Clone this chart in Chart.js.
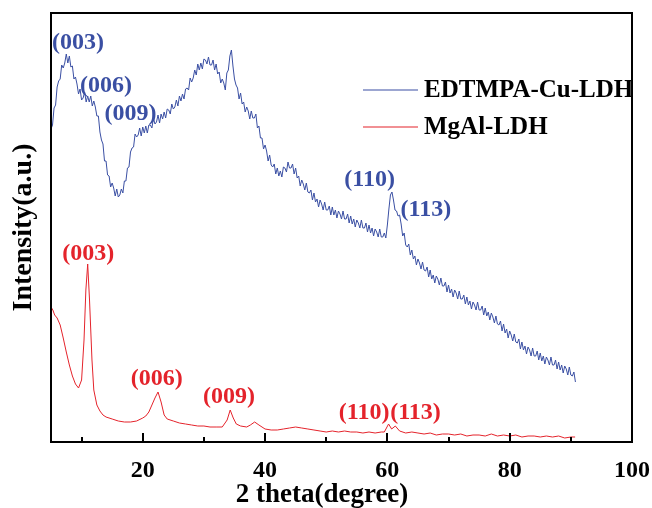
<!DOCTYPE html>
<html>
<head>
<meta charset="utf-8">
<script src="https://cdn.jsdelivr.net/npm/chart.js@4/dist/chart.umd.min.js"></script>
<style>
  html, body { margin: 0; padding: 0; background: #fff; }
  #wrap { width: 652px; height: 508px; }
</style>
</head>
<body>
<div id="wrap"><canvas id="xrd"></canvas></div>
<script>
// EDTMPA-Cu-LDH pattern (2 theta, intensity a.u.), every 0.25 degree
const cuTheta = [
    5, 5.25, 5.5, 5.75, 6, 6.25, 6.5, 6.75, 7, 7.25, 7.5, 7.75, 8, 8.25, 8.5, 8.75, 9, 9.25, 9.5, 9.75,
    10, 10.25, 10.5, 10.75, 11, 11.25, 11.5, 11.75, 12, 12.25, 12.5, 12.75, 13, 13.25, 13.5, 13.75, 14, 14.25, 14.5, 14.75,
    15, 15.25, 15.5, 15.75, 16, 16.25, 16.5, 16.75, 17, 17.25, 17.5, 17.75, 18, 18.25, 18.5, 18.75, 19, 19.25, 19.5, 19.75,
    20, 20.25, 20.5, 20.75, 21, 21.25, 21.5, 21.75, 22, 22.25, 22.5, 22.75, 23, 23.25, 23.5, 23.75, 24, 24.25, 24.5, 24.75,
    25, 25.25, 25.5, 25.75, 26, 26.25, 26.5, 26.75, 27, 27.25, 27.5, 27.75, 28, 28.25, 28.5, 28.75, 29, 29.25, 29.5, 29.75,
    30, 30.25, 30.5, 30.75, 31, 31.25, 31.5, 31.75, 32, 32.25, 32.5, 32.75, 33, 33.25, 33.5, 33.75, 34, 34.25, 34.5, 34.75,
    35, 35.25, 35.5, 35.75, 36, 36.25, 36.5, 36.75, 37, 37.25, 37.5, 37.75, 38, 38.25, 38.5, 38.75, 39, 39.25, 39.5, 39.75,
    40, 40.25, 40.5, 40.75, 41, 41.25, 41.5, 41.75, 42, 42.25, 42.5, 42.75, 43, 43.25, 43.5, 43.75, 44, 44.25, 44.5, 44.75,
    45, 45.25, 45.5, 45.75, 46, 46.25, 46.5, 46.75, 47, 47.25, 47.5, 47.75, 48, 48.25, 48.5, 48.75, 49, 49.25, 49.5, 49.75,
    50, 50.25, 50.5, 50.75, 51, 51.25, 51.5, 51.75, 52, 52.25, 52.5, 52.75, 53, 53.25, 53.5, 53.75, 54, 54.25, 54.5, 54.75,
    55, 55.25, 55.5, 55.75, 56, 56.25, 56.5, 56.75, 57, 57.25, 57.5, 57.75, 58, 58.25, 58.5, 58.75, 59, 59.25, 59.5, 59.75,
    60, 60.25, 60.5, 60.75, 61, 61.25, 61.5, 61.75, 62, 62.25, 62.5, 62.75, 63, 63.25, 63.5, 63.75, 64, 64.25, 64.5, 64.75,
    65, 65.25, 65.5, 65.75, 66, 66.25, 66.5, 66.75, 67, 67.25, 67.5, 67.75, 68, 68.25, 68.5, 68.75, 69, 69.25, 69.5, 69.75,
    70, 70.25, 70.5, 70.75, 71, 71.25, 71.5, 71.75, 72, 72.25, 72.5, 72.75, 73, 73.25, 73.5, 73.75, 74, 74.25, 74.5, 74.75,
    75, 75.25, 75.5, 75.75, 76, 76.25, 76.5, 76.75, 77, 77.25, 77.5, 77.75, 78, 78.25, 78.5, 78.75, 79, 79.25, 79.5, 79.75,
    80, 80.25, 80.5, 80.75, 81, 81.25, 81.5, 81.75, 82, 82.25, 82.5, 82.75, 83, 83.25, 83.5, 83.75, 84, 84.25, 84.5, 84.75,
    85, 85.25, 85.5, 85.75, 86, 86.25, 86.5, 86.75, 87, 87.25, 87.5, 87.75, 88, 88.25, 88.5, 88.75, 89, 89.25, 89.5, 89.75,
    90, 90.25, 90.5, 90.75],
    cuIntensity = [
    313, 317, 334, 337, 355, 361, 363, 377, 374, 379, 388, 379, 386, 375, 376, 363, 365, 358, 348, 353,
    342, 344, 350, 340, 346, 340, 346, 336, 341, 335, 326, 326, 310, 302, 298, 281, 281, 267, 266, 255,
    259, 254, 246, 253, 245, 247, 253, 249, 261, 261, 274, 275, 290, 294, 295, 308, 305, 307, 314, 306,
    315, 309, 316, 309, 317, 317, 314, 324, 318, 320, 327, 319, 328, 323, 330, 324, 333, 332, 328, 338,
    333, 335, 342, 336, 346, 341, 348, 343, 353, 354, 352, 364, 360, 364, 372, 367, 378, 372, 379, 373,
    383, 382, 378, 385, 377, 377, 382, 372, 378, 368, 370, 359, 363, 359, 352, 369, 372, 386, 392, 376,
    363, 357, 354, 343, 349, 338, 340, 330, 335, 331, 323, 331, 324, 324, 328, 314, 316, 304, 304, 293,
    297, 291, 281, 287, 277, 275, 278, 268, 274, 266, 271, 265, 275, 274, 270, 280, 274, 274, 278, 268,
    274, 264, 266, 256, 262, 258, 252, 259, 250, 249, 252, 242, 249, 240, 243, 235, 242, 238, 232, 240,
    232, 232, 236, 227, 235, 227, 232, 224, 231, 228, 223, 231, 223, 223, 228, 219, 226, 218, 223, 215,
    222, 219, 214, 222, 214, 214, 219, 210, 217, 209, 214, 206, 213, 210, 205, 213, 205, 205, 209, 204,
    217, 233, 247, 250, 242, 232, 231, 226, 227, 218, 206, 209, 197, 195, 198, 187, 192, 183, 186, 177,
    183, 179, 173, 180, 172, 171, 175, 165, 172, 163, 167, 159, 166, 163, 157, 164, 156, 156, 160, 150,
    157, 149, 153, 145, 152, 149, 143, 151, 143, 143, 147, 138, 145, 137, 141, 133, 140, 137, 132, 140,
    132, 132, 136, 127, 134, 126, 130, 122, 129, 125, 119, 126, 118, 117, 121, 111, 118, 109, 113, 104,
    111, 107, 101, 108, 100, 99, 103, 93, 100, 92, 96, 88, 95, 92, 86, 94, 86, 86, 91, 82,
    89, 81, 86, 78, 85, 82, 77, 85, 77, 77, 82, 73, 80, 72, 77, 69, 76, 73, 67, 75,
    67, 66, 70, 60];

// MgAl-LDH pattern
const mgTheta = [5, 5.3, 5.6, 6, 6.5, 7, 7.5, 8, 8.5, 9, 9.5, 10, 10.4, 10.7, 11, 11.3, 11.7, 12, 12.5, 13,
    13.5, 14, 15, 16, 17, 18, 19, 20, 20.5, 21, 21.5, 22, 22.5, 23, 23.5, 24, 25, 26, 27, 28,
    29, 30, 31, 32, 33, 33.8, 34.3, 34.8, 35.3, 36, 37, 37.6, 38.3, 39, 40, 41, 42, 43, 44, 45,
    46, 47, 48, 49, 50, 51, 52, 53, 54, 55, 56, 57, 58, 59, 59.5, 60.2, 60.7, 61.3, 62, 63,
    64, 65, 66, 67, 68, 69, 70, 71, 72, 73, 74, 75, 76, 77, 78, 79, 80, 81, 82, 83,
    84, 85, 86, 87, 88, 89, 90, 90.7],
    mgIntensity = [135, 132, 127, 124, 117, 104, 90, 77, 66, 58, 54, 62, 102, 152, 178, 142, 82, 52, 37, 31,
    27, 25, 23, 21, 20, 20, 21, 24, 26, 30, 37, 44, 50, 40, 27, 23, 21, 19, 18, 17,
    16, 16, 15, 15, 15, 22, 32, 24, 18, 16, 15, 17, 20, 17, 13, 12, 12, 13, 14, 15,
    14, 13, 12, 11, 10, 11, 10, 11, 10, 10, 9, 10, 9, 10, 10, 18, 13, 16, 11, 9,
    10, 9, 8, 9, 7, 8, 8, 7, 8, 6, 7, 7, 6, 8, 6, 7, 6, 7, 5, 6,
    6, 5, 6, 5, 6, 4, 5, 5];

const xTicks = [20, 40, 60, 80, 100],
    xMinorTicks = [10, 30, 50, 70, 90];

// peak labels (hkl) and where they sit in data space
const cuHkl = ["(003)", "(006)", "(009)", "(110)", "(113)"],
    cuHklTheta = [9.4, 14.0, 18.0, 57.1, 66.3],
    cuHklIntensity = [399, 356, 328, 262, 232],
    mgHkl = ["(003)", "(006)", "(009)", "(110)", "(113)"],
    mgHklTheta = [11.1, 22.3, 34.1, 56.2, 64.6],
    mgHklIntensity = [188, 63, 45, 29, 29];

const seriesNames = ["EDTMPA-Cu-LDH", "MgAl-LDH"],
    blue = "#3a4fa3",
    red = "#e4232b",
    serif = "'Liberation Serif', 'Times New Roman', serif";

const toPoints = (xs, ys) => xs.map((x, i) => ({ x: x, y: ys[i] }));

const frame = {
    id: "frame",
    afterDraw(chart) {
        const { ctx, chartArea: a, scales: { x, y } } = chart;
        ctx.save();
        // axis box
        ctx.strokeStyle = "#000";
        ctx.lineWidth = 2;
        ctx.strokeRect(a.left, a.top, a.right - a.left, a.bottom - a.top);
        // inward ticks on the bottom axis
        ctx.beginPath();
        for (const v of xTicks) {
            const px = Math.round(x.getPixelForValue(v));
            ctx.moveTo(px, a.bottom);
            ctx.lineTo(px, a.bottom - 9);
        }
        for (const v of xMinorTicks) {
            const px = Math.round(x.getPixelForValue(v));
            ctx.moveTo(px, a.bottom);
            ctx.lineTo(px, a.bottom - 5);
        }
        ctx.stroke();

        // hkl labels
        ctx.font = "bold 24px " + serif;
        ctx.textAlign = "center";
        ctx.textBaseline = "middle";
        ctx.fillStyle = blue;
        cuHkl.forEach((t, i) => ctx.fillText(t, x.getPixelForValue(cuHklTheta[i]), y.getPixelForValue(cuHklIntensity[i])));
        ctx.fillStyle = red;
        mgHkl.forEach((t, i) => ctx.fillText(t, x.getPixelForValue(mgHklTheta[i]), y.getPixelForValue(mgHklIntensity[i])));

        // legend
        const lx = a.left + 312, ly = a.top + 77;
        ctx.font = "bold 25px " + serif;
        [blue, red].forEach((c, i) => {
            const yy = ly + i * 37;
            ctx.strokeStyle = c;
            ctx.lineWidth = 1.2;
            ctx.beginPath();
            ctx.moveTo(lx, yy);
            ctx.lineTo(lx + 55, yy);
            ctx.stroke();
            ctx.fillStyle = "#000";
            ctx.textAlign = "left";
            ctx.fillText(seriesNames[i], lx + 61, yy + 1);
        });

        // x axis title
        ctx.font = "bold 27px " + serif;
        ctx.textAlign = "center";
        ctx.fillStyle = "#000";
        ctx.fillText("2 theta(degree)", chart.width / 2 - 4, 495);
        ctx.restore();
    }
};

new Chart(document.getElementById("xrd"), {
    type: "line",
    data: {
        datasets: [{
            label: seriesNames[0],
            data: toPoints(cuTheta, cuIntensity),
            borderColor: blue,
            borderWidth: 1,
            pointRadius: 0,
            tension: 0
        }, {
            label: seriesNames[1],
            data: toPoints(mgTheta, mgIntensity),
            borderColor: red,
            borderWidth: 1,
            pointRadius: 0,
            tension: 0
        }]
    },
    options: {
        responsive: true,
        maintainAspectRatio: false,
        animation: false,
        events: [],
        layout: { padding: { top: 13, right: 20, left: 0, bottom: 0 } },
        plugins: { legend: { display: false }, tooltip: { enabled: false } },
        scales: {
            x: {
                type: "linear",
                min: 5,
                max: 100,
                afterBuildTicks: s => { s.ticks = xTicks.map(v => ({ value: v })); },
                afterFit: s => { s.height = 66; s.paddingLeft = 0; s.paddingRight = 0; },
                grid: { display: false, drawTicks: false },
                border: { display: false },
                ticks: {
                    color: "#000",
                    padding: 14,
                    maxRotation: 0,
                    font: { family: serif, size: 24, weight: "bold" }
                }
            },
            y: {
                min: 0,
                max: 429,
                afterFit: s => { s.width = 51; },
                grid: { display: false, drawTicks: false },
                border: { display: false },
                ticks: { display: false },
                title: {
                    display: true,
                    text: "Intensity(a.u.)",
                    color: "#000",
                    padding: { top: 10, bottom: 0 },
                    font: { family: serif, size: 28, weight: "bold", lineHeight: 1 }
                }
            }
        }
    },
    plugins: [frame]
});
</script>
</body>
</html>
